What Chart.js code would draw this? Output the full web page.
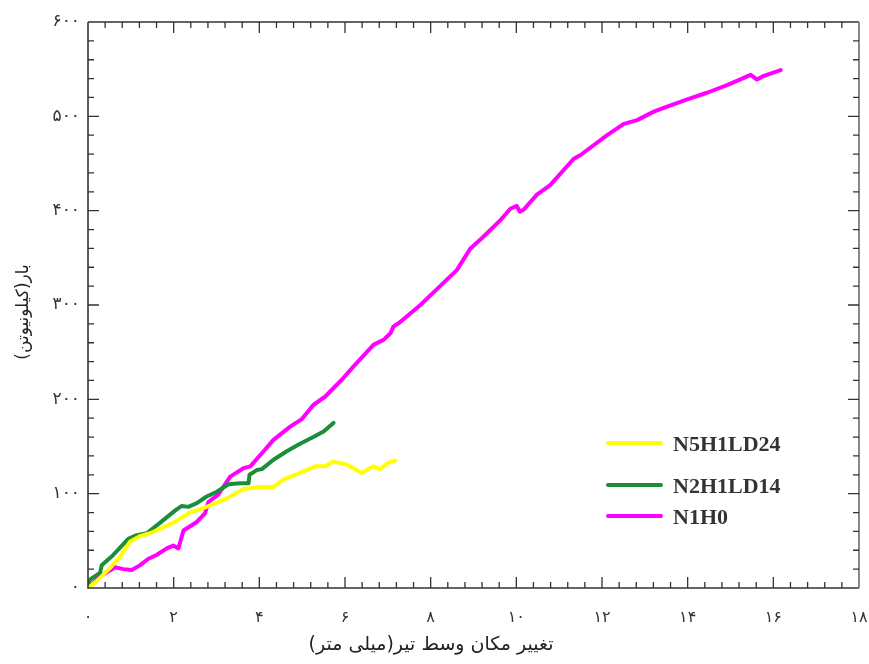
<!DOCTYPE html>
<html lang="fa">
<head>
<meta charset="utf-8">
<title>بار - تغییر مکان وسط تیر</title>
<script src="https://cdn.jsdelivr.net/npm/chart.js@4"></script>
<style>
  body { margin: 0; background: #fff; }
  #loadChart { display: block; }
</style>
</head>
<body>
<canvas id="loadChart" width="869" height="664"></canvas>
<script>
// midspan deflection (mm) vs load (kN) for the three beams
const n5h1ld24Deflection = [0, 0.2, 0.51, 0.75, 0.98, 1.21, 1.45, 1.99, 2.38, 2.77, 3.24, 3.63, 4.02, 4.33, 4.56, 4.95, 5.30, 5.54, 5.73, 6.04, 6.39, 6.66, 6.82, 6.98, 7.17];
const n5h1ld24Load = [0, 7, 21, 33, 49, 55, 58, 69, 80, 86, 95, 105, 107, 107, 115, 122, 129, 129, 134, 131, 122, 129, 126, 132, 135];

const n2h1ld14Deflection = [0, 0.05, 0.28, 0.32, 0.59, 0.94, 1.14, 1.37, 1.68, 2.03, 2.19, 2.34, 2.54, 2.77, 3.01, 3.28, 3.55, 3.75, 3.77, 3.94, 4.06, 4.33, 4.64, 4.95, 5.26, 5.50, 5.73];
const n2h1ld14Load = [4, 9, 16, 24, 35, 52, 56, 58, 69, 82, 87, 86, 90, 97, 102, 110, 111, 111, 120, 125, 126, 136, 145, 153, 160, 166, 175];

const n1h0Deflection = [0, 0.28, 0.63, 0.83, 1.02, 1.21, 1.41, 1.60, 1.84, 1.99, 2.11, 2.23, 2.54, 2.73, 2.81, 3.04, 3.32, 3.63, 3.79, 4.10, 4.33, 4.72, 4.99, 5.26, 5.54, 5.93, 6.20, 6.67, 6.90, 7.06, 7.13, 7.29, 7.76, 8.22, 8.61, 8.93, 9.20, 9.63, 9.86, 10.01, 10.08, 10.17, 10.48, 10.79, 11.34, 11.50, 12.12, 12.51, 12.82, 13.21, 13.44, 13.99, 14.45, 14.92, 15.27, 15.47, 15.62, 15.78, 16.17];
const n1h0Load = [0, 12, 22, 20, 19, 24, 31, 35, 42, 45, 42, 61, 70, 79, 91, 99, 118, 127, 129, 145, 157, 171, 179, 194, 203, 221, 235, 258, 263, 270, 277, 282, 300, 320, 337, 360, 371, 390, 402, 405, 399, 401, 417, 427, 455, 459, 480, 492, 496, 505, 509, 518, 525, 533, 540, 544, 539, 543, 549];

const seriesNames = ['N5H1LD24', 'N2H1LD14', 'N1H0'];
const seriesColors = ['#ffff00', '#1b8e3a', '#ff00ff'];

const xTitle = 'تغییر مکان وسط تیر(میلی متر)';
const yTitle = 'بار(کیلونیوتن)';

const faDigits = '۰۱۲۳۴۵۶۷۸۹';
const toFa = v => String(v).replace(/\d/g, d => faDigits[d]);

const points = (xs, ys) => xs.map((x, i) => ({ x: x, y: ys[i] }));

// frame with inward ticks on all four sides, plus axis titles and legend
const frameTicks = {
    id: 'frameTicks',
    afterDraw(chart) {
        const ctx = chart.ctx;
        const { left, right, top, bottom } = chart.chartArea;
        const xs = chart.scales.x, ys = chart.scales.y;
        ctx.save();

        ctx.lineWidth = 1.6;
        ctx.strokeStyle = '#333';
        ctx.beginPath();
        ctx.moveTo(left, top); ctx.lineTo(right, top);
        ctx.moveTo(left, top); ctx.lineTo(left, bottom); ctx.lineTo(right, bottom);
        ctx.stroke();
        ctx.strokeStyle = '#888';
        ctx.lineWidth = 2;
        ctx.beginPath();
        ctx.moveTo(right, top); ctx.lineTo(right, bottom);
        ctx.stroke();

        ctx.strokeStyle = '#333';
        ctx.lineWidth = 1.3;
        ctx.beginPath();
        for (let i = 1; i < 45; i++) {
            const px = xs.getPixelForValue(i * 0.4);
            const len = i % 5 === 0 ? 11 : 6;
            ctx.moveTo(px, bottom); ctx.lineTo(px, bottom - len);
            ctx.moveTo(px, top); ctx.lineTo(px, top + len);
        }
        for (let i = 1; i < 30; i++) {
            const py = ys.getPixelForValue(i * 20);
            const len = i % 5 === 0 ? 11 : 6;
            ctx.moveTo(left, py); ctx.lineTo(left + len, py);
            ctx.moveTo(right, py); ctx.lineTo(right - len, py);
        }
        ctx.stroke();

        // axis titles
        ctx.fillStyle = '#222';
        ctx.direction = 'rtl';
        ctx.textAlign = 'center';
        ctx.textBaseline = 'middle';
        ctx.font = '19px "DejaVu Sans", sans-serif';
        ctx.fillText(xTitle, 431, 645);
        ctx.save();
        ctx.translate(24, 312);
        ctx.rotate(-Math.PI / 2);
        ctx.font = '17px "DejaVu Sans", sans-serif';
        ctx.fillText(yTitle, 0, 0);
        ctx.restore();

        // legend
        ctx.direction = 'ltr';
        const rows = [443, 485, 516];
        chart.data.datasets.forEach((ds, i) => {
            ctx.strokeStyle = ds.borderColor;
            ctx.lineWidth = 4;
            ctx.lineCap = 'round';
            ctx.beginPath();
            ctx.moveTo(608, rows[i]); ctx.lineTo(661, rows[i]);
            ctx.stroke();
            ctx.fillStyle = '#333';
            ctx.font = 'bold 22px "Liberation Serif", serif';
            ctx.textAlign = 'left';
            ctx.textBaseline = 'alphabetic';
            ctx.fillText(ds.label, 673, rows[i] + 8);
        });
        ctx.restore();
    }
};

const series = [
    points(n5h1ld24Deflection, n5h1ld24Load),
    points(n2h1ld14Deflection, n2h1ld14Load),
    points(n1h0Deflection, n1h0Load)
];

new Chart(document.getElementById('loadChart'), {
    type: 'line',
    data: {
        datasets: series.map((data, i) => ({
            label: seriesNames[i],
            data: data,
            borderColor: seriesColors[i],
            backgroundColor: seriesColors[i],
            borderWidth: 4,
            borderCapStyle: 'round',
            borderJoinStyle: 'round',
            pointRadius: 0,
            tension: 0,
            fill: false
        }))
    },
    options: {
        responsive: false,
        animation: false,
        layout: { autoPadding: false, padding: { top: 22, right: 10, left: 0, bottom: 0 } },
        plugins: {
            legend: { display: false },
            tooltip: { enabled: false }
        },
        scales: {
            x: {
                type: 'linear',
                min: 0,
                max: 18,
                afterFit: s => {
                    s.height = 76;
                    s.paddingLeft = 0;
                    s.paddingRight = 0;
                },
                grid: { display: false, drawTicks: false },
                border: { display: false },
                ticks: {
                    stepSize: 2,
                    padding: 20,
                    color: '#333',
                    font: { family: '"DejaVu Sans", sans-serif', size: 16 },
                    callback: v => toFa(v)
                }
            },
            y: {
                min: 0,
                max: 600,
                afterFit: s => {
                    s.width = 88;
                    s.paddingTop = 0;
                    s.paddingBottom = 0;
                },
                grid: { display: false, drawTicks: false },
                border: { display: false },
                ticks: {
                    stepSize: 100,
                    padding: 8,
                    color: '#333',
                    font: { family: '"DejaVu Sans", sans-serif', size: 17 },
                    callback: v => toFa(v)
                }
            }
        }
    },
    plugins: [frameTicks]
});
</script>
</body>
</html>
